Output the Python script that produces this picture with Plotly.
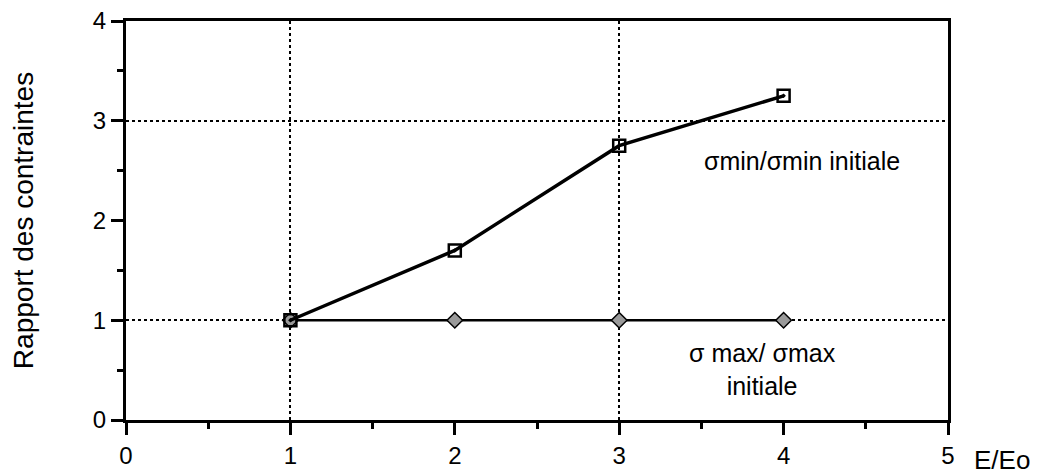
import plotly.graph_objects as go

x_vals = [1, 2, 3, 4]
sigma_min_ratio = [1.0, 1.7, 2.75, 3.25]
sigma_max_ratio = [1.0, 1.0, 1.0, 1.0]
x_ticks = [0, 1, 2, 3, 4, 5]
y_ticks = [0, 1, 2, 3, 4]
x_grid = [1, 3]
y_grid = [1, 3]

FONT = "Liberation Sans, Arial, Helvetica, sans-serif"
FS = 24

fig = go.Figure()

fig.add_trace(go.Scatter(
    x=x_vals, y=sigma_max_ratio, mode="lines+markers",
    line=dict(color="black", width=2.5),
    marker=dict(symbol="diamond", size=12, color="#9a9a9a",
                line=dict(color="black", width=1.5)),
    showlegend=False))

fig.add_trace(go.Scatter(
    x=x_vals, y=sigma_min_ratio, mode="lines+markers",
    line=dict(color="black", width=3.5),
    marker=dict(symbol="square-open-dot", size=12, color="black",
                line=dict(color="black", width=2.5)),
    showlegend=False))

# invisible trace on overlay axes to carry the grid
fig.add_trace(go.Scatter(x=[0], y=[0], xaxis="x2", yaxis="y2",
                         mode="markers", marker=dict(opacity=0),
                         showlegend=False, hoverinfo="skip"))

tick_common = dict(showgrid=False, zeroline=False, showline=True, linecolor="black",
                   linewidth=3, mirror=True, ticks="outside", ticklen=12,
                   tickwidth=2.5, tickcolor="black", automargin=False,
                   ticklabeloverflow="allow",
                   tickfont=dict(family=FONT, size=FS, color="black"),
                   minor=dict(dtick=0.5, ticks="outside", ticklen=6, tickwidth=2.5,
                              tickcolor="black", showgrid=False))

fig.update_layout(
    width=1046, height=474,
    margin=dict(l=118, r=106, t=13, b=62),
    paper_bgcolor="white", plot_bgcolor="white",
    font=dict(family=FONT, size=FS, color="black"),
    xaxis=dict(range=[0, 5], tickvals=x_ticks, ticktext=[str(v) for v in x_ticks],
               **tick_common),
    yaxis=dict(range=[0, 4], tickvals=y_ticks, ticktext=[str(v) for v in y_ticks],
               title=dict(text="Rapport des contraintes", standoff=66,
                          font=dict(family=FONT, size=28)),
               **tick_common),
    xaxis2=dict(range=[0, 5], overlaying="x", tickvals=x_grid, showticklabels=False,
                showgrid=True, gridcolor="black", gridwidth=2, griddash="dot",
                zeroline=False, ticks="", automargin=False),
    yaxis2=dict(range=[0, 4], overlaying="y", tickvals=y_grid, showticklabels=False,
                showgrid=True, gridcolor="black", gridwidth=2, griddash="dot",
                zeroline=False, ticks="", automargin=False),
)

fig.add_annotation(x=4.11, y=2.6, text="σmin/σmin initiale", showarrow=False,
                   font=dict(family=FONT, size=25))
fig.add_annotation(x=3.87, y=0.51, text="σ max/ σmax<br>initiale", showarrow=False,
                   font=dict(family=FONT, size=25))
fig.add_annotation(x=1.0, xref="paper", xanchor="left", xshift=24,
                   y=0, yref="paper", yanchor="top", yshift=-23,
                   text="E/Eo", showarrow=False, font=dict(family=FONT, size=26))

fig.write_html("out.html")
